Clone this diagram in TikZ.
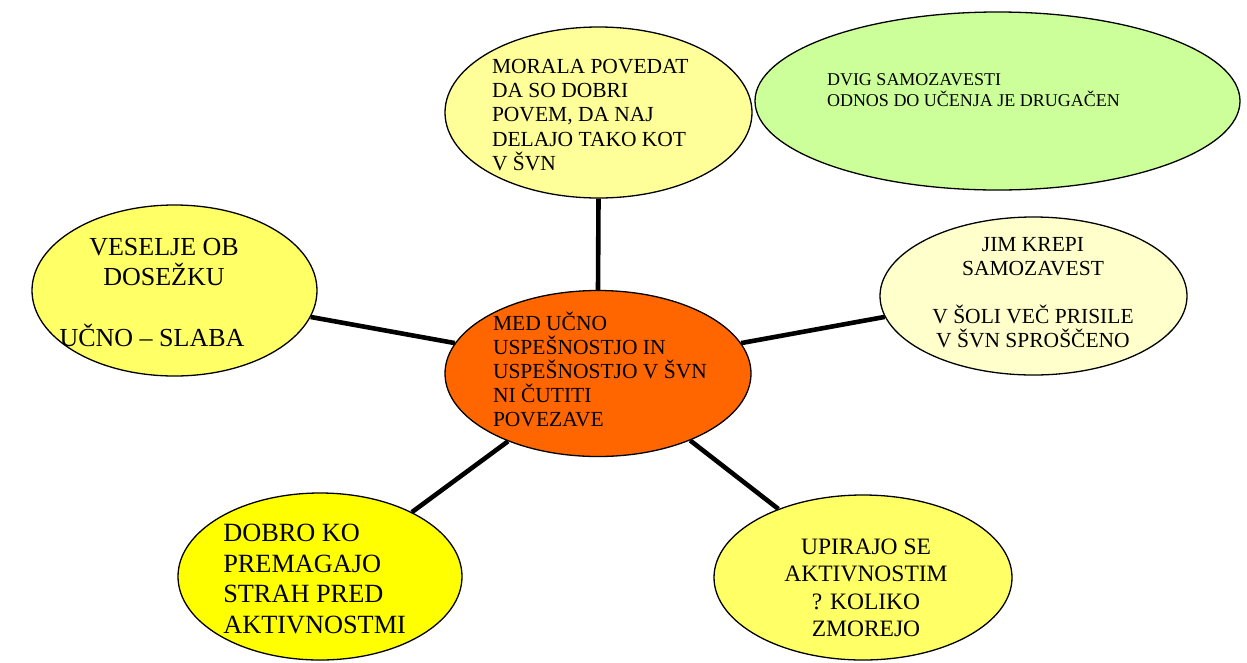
\documentclass[tikz,border=0pt]{standalone}
\usepackage{fontspec}
\setmainfont{Liberation Serif}
\usetikzlibrary{shapes.geometric,backgrounds}
\definecolor{cOrange}{HTML}{FF6600}
\definecolor{cPale}{HTML}{FFFF99}
\definecolor{cGreen}{HTML}{CCFF99}
\definecolor{cCream}{HTML}{FFFFCC}
\definecolor{cYellow}{HTML}{FFFF66}
\definecolor{cBright}{HTML}{FFFF00}
\begin{document}
\begin{tikzpicture}[x=1pt,y=-1pt,
  bubble/.style={ellipse, draw=black, line width=1.3pt, inner sep=0pt},
  link/.style={line width=4.6pt, draw=black},
  txt/.style={inner sep=0pt, outer sep=0pt}]
\useasboundingbox (0,0) rectangle (1247,662);
% ellipses
\node[bubble, fill=cOrange, minimum width=306pt, minimum height=166pt] (c) at (598,373.5) {};
\node[bubble, fill=cPale, minimum width=307pt, minimum height=171pt] (t) at (598.5,112.5) {};
\node[bubble, fill=cGreen, minimum width=485pt, minimum height=178pt] (g) at (997.5,101) {};
\node[bubble, fill=cCream, minimum width=307pt, minimum height=158pt] (r) at (1033.5,296) {};
\node[bubble, fill=cYellow, minimum width=285pt, minimum height=171pt] (l) at (174.5,290.5) {};
\node[bubble, fill=cBright, minimum width=284pt, minimum height=167pt] (bl) at (320,576.5) {};
\node[bubble, fill=cYellow, minimum width=298pt, minimum height=165pt] (br) at (863,577.5) {};
% connectors
\begin{pgfonlayer}{background}
\draw[link] (t.-90) -- (c.90);
\draw[link] (l.-11) -- (c.168);
\draw[link] (c.12) -- (r.188);
\draw[link] (c.217) -- (bl.35);
\draw[link] (c.-36) -- (br.141);
\end{pgfonlayer}
% texts
\node[txt, anchor=base west] (tc) at (493,330) {\parbox[t]{260pt}{\raggedright\fontsize{21.5}{24.2}\selectfont MED UČNO\\USPEŠNOSTJO IN\\USPEŠNOSTJO V ŠVN\\NI ČUTITI\\POVEZAVE}};
\node[txt, anchor=base west] (tt) at (492,73.3) {\parbox[t]{260pt}{\raggedright\fontsize{21.5}{24.3}\selectfont MORALA POVEDAT\\DA SO DOBRI\\POVEM, DA NAJ\\DELAJO TAKO KOT\\V ŠVN}};
\node[txt, anchor=base west] (tg) at (827,85) {\parbox[t]{380pt}{\raggedright\fontsize{18}{21}\selectfont DVIG SAMOZAVESTI\\ODNOS DO UČENJA JE DRUGAČEN}};
\node[txt, anchor=base] (tr) at (1033,251) {\parbox[t]{300pt}{\centering\fontsize{21.5}{24}\selectfont JIM KREPI\\SAMOZAVEST\\[24pt]V ŠOLI VEČ PRISILE\\V ŠVN SPROŠČENO}};
\node[txt, anchor=base] (tl) at (164,255) {\parbox[t]{280pt}{\centering\fontsize{26}{30.6}\selectfont VESELJE OB\\DOSEŽKU\\[30.6pt]\hspace*{-24pt}UČNO – SLABA}};
\node[txt, anchor=base west] (tbl) at (223.3,541.7) {\parbox[t]{260pt}{\raggedright\fontsize{26.3}{30.5}\selectfont DOBRO KO\\PREMAGAJO\\STRAH PRED\\AKTIVNOSTMI}};
\node[txt, anchor=base] (tbr) at (866,554) {\parbox[t]{280pt}{\centering\fontsize{23.5}{27.6}\selectfont UPIRAJO SE\\AKTIVNOSTIM\\? KOLIKO\\ZMOREJO}};
\end{tikzpicture}
\end{document}
